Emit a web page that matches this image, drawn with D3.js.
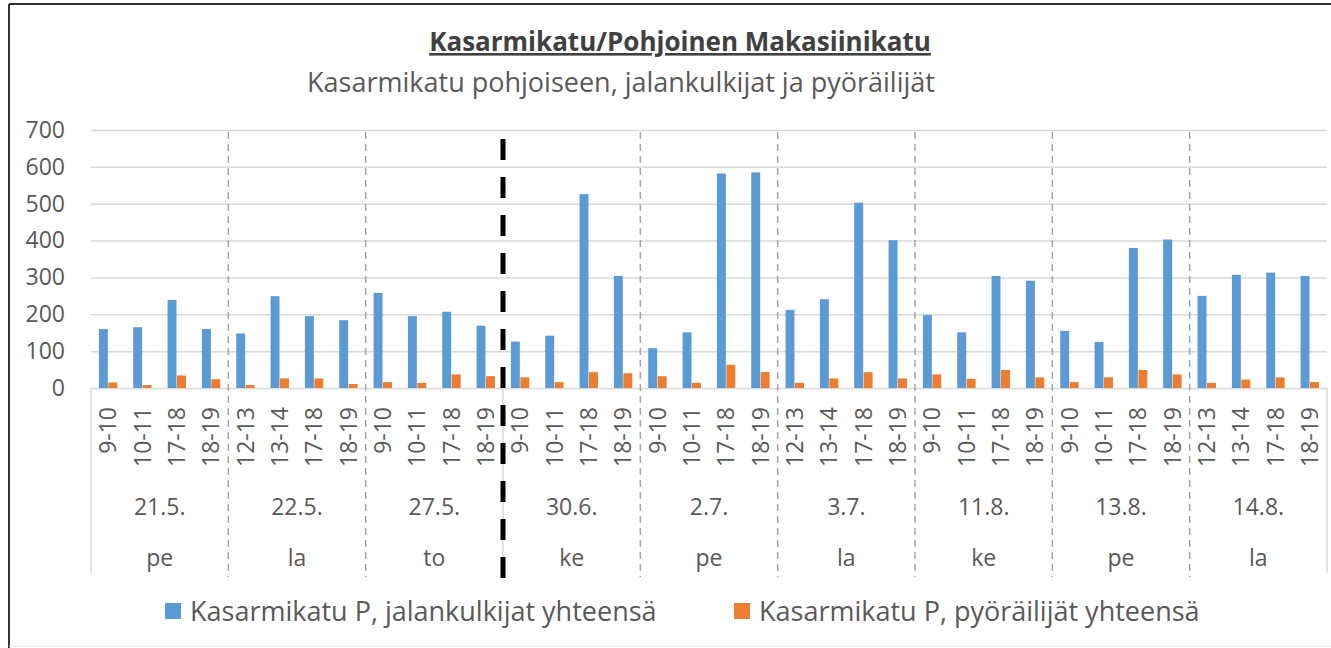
<!DOCTYPE html>
<html>
<head>
<meta charset="utf-8">
<script src="https://cdn.jsdelivr.net/npm/d3@7"></script>
<style>
  body { margin: 0; background: #fff; }
  svg { display: block; font-family: "Open Sans", sans-serif; }
</style>
</head>
<body>
<div id="chart"></div>
<script>
const width = 1331;
const height = 648;

// counting days and weekdays
const dates = ['21.5.', '22.5.', '27.5.', '30.6.', '2.7.', '3.7.', '11.8.', '13.8.', '14.8.'];
const days = ['pe', 'la', 'to', 'ke', 'pe', 'la', 'ke', 'pe', 'la'];
const hours = [
  '9-10', '10-11', '17-18', '18-19',
  '12-13', '13-14', '17-18', '18-19',
  '9-10', '10-11', '17-18', '18-19',
  '9-10', '10-11', '17-18', '18-19',
  '9-10', '10-11', '17-18', '18-19',
  '12-13', '13-14', '17-18', '18-19',
  '9-10', '10-11', '17-18', '18-19',
  '9-10', '10-11', '17-18', '18-19',
  '12-13', '13-14', '17-18', '18-19'
];

const pedestrians = [
  160, 165, 239, 160,
  148, 249, 195, 184,
  258, 195, 207, 169,
  126, 142, 526, 304,
  108, 151, 582, 585,
  212, 241, 503, 401,
  198, 151, 304, 291,
  155, 125, 380, 403,
  250, 307, 313, 304
];
const cyclists = [
  15, 8, 34, 24,
  8, 26, 26, 11,
  16, 14, 37, 32,
  29, 16, 43, 40,
  32, 14, 63, 43,
  14, 26, 43, 26,
  37, 25, 49, 29,
  16, 29, 49, 37,
  14, 23, 29, 16
];

const seriesNames = ['Kasarmikatu P, jalankulkijat yhteensä', 'Kasarmikatu P, pyöräilijät yhteensä'];
const colors = ['#5b9bd5', '#ed7d31'];
const yTicks = [0, 100, 200, 300, 400, 500, 600, 700];
const breakAfter = 3; // black dashed line before this date group

const plot = {left: 91, right: 1327, top: 130, bottom: 388, axisBottom: 573};

const svg = d3.select('#chart')
  .append('svg')
    .attr('width', width)
    .attr('height', height);

svg.append('rect')
  .attr('width', width)
  .attr('height', height)
  .attr('fill', '#fff');

// frame of the screenshot
svg.append('line').attr('x1', 9).attr('x2', 9).attr('y1', 4).attr('y2', height)
  .attr('stroke', '#333').attr('stroke-width', 2);
svg.append('line').attr('x1', 9).attr('x2', width).attr('y1', 4).attr('y2', 4)
  .attr('stroke', '#333').attr('stroke-width', 2);
svg.append('line').attr('x1', 9).attr('x2', width).attr('y1', 646).attr('y2', 646)
  .attr('stroke', '#e6e6e6').attr('stroke-width', 1);

const idx = d3.range(hours.length);

const x = d3.scaleBand()
  .domain(idx)
  .range([plot.left, plot.right]);

const xg = d3.scaleBand()
  .domain(d3.range(dates.length))
  .range([plot.left, plot.right]);

const x1 = d3.scaleBand()
  .domain([0, 1])
  .range([x.bandwidth() * 0.23, x.bandwidth() * 0.78]);

const y = d3.scaleLinear()
  .domain([0, 700])
  .range([plot.bottom, plot.top]);

// y axis with gridlines
const yAxis = d3.axisLeft(y)
  .tickValues(yTicks)
  .tickSize(-(plot.right - plot.left))
  .tickPadding(26);

svg.append('g')
  .attr('transform', `translate(${plot.left},0)`)
  .call(yAxis)
  .call(g => g.select('.domain').remove())
  .call(g => g.selectAll('.tick line').attr('stroke', '#d9d9d9').attr('stroke-width', 1.5))
  .call(g => g.selectAll('.tick text')
    .attr('fill', '#595959')
    .style('font-size', '23px')
    .style('font-family', '"Open Sans", sans-serif'));

// group separators
const seps = d3.range(1, dates.length).filter(i => i !== breakAfter);
svg.selectAll('.sep')
  .data(seps)
  .enter()
  .append('line')
    .attr('class', 'sep')
    .attr('x1', i => xg(i))
    .attr('x2', i => xg(i))
    .attr('y1', plot.top + 2)
    .attr('y2', plot.axisBottom + 4)
    .attr('stroke', '#a6a6a6')
    .attr('stroke-width', 1.5)
    .attr('stroke-dasharray', '7 5');

// outer edges of the category axis
svg.selectAll('.edge')
  .data([plot.left, plot.right])
  .enter()
  .append('line')
    .attr('class', 'edge')
    .attr('x1', d => d).attr('x2', d => d)
    .attr('y1', plot.bottom).attr('y2', plot.axisBottom)
    .attr('stroke', '#d9d9d9')
    .attr('stroke-width', 1.5);

svg.append('line')
  .attr('x1', xg(breakAfter)).attr('x2', xg(breakAfter))
  .attr('y1', plot.bottom).attr('y2', plot.axisBottom + 4)
  .attr('stroke', '#d9d9d9')
  .attr('stroke-width', 1.5);

// bars
const series = [pedestrians, cyclists];
svg.selectAll('.series')
  .data(series)
  .enter()
  .append('g')
    .attr('class', 'series')
    .attr('fill', (d, i) => colors[i])
    .each(function (vals, s) {
      d3.select(this).selectAll('rect')
        .data(vals)
        .enter()
        .append('rect')
          .attr('x', (d, i) => x(i) + x1(s))
          .attr('width', x1.bandwidth() - 0.5)
          .attr('y', d => y(d))
          .attr('height', d => y(0) - y(d));
    });

// black dashed break line
svg.append('line')
  .attr('x1', xg(breakAfter)).attr('x2', xg(breakAfter))
  .attr('y1', 139).attr('y2', plot.axisBottom + 6)
  .attr('stroke', '#000')
  .attr('stroke-width', 5)
  .attr('stroke-dasharray', '21 17');

// hour labels
svg.selectAll('.hour')
  .data(hours)
  .enter()
  .append('text')
    .attr('class', 'hour')
    .attr('transform', (d, i) => `translate(${x(i) + x.bandwidth() / 2},407) rotate(-90)`)
    .attr('text-anchor', 'end')
    .attr('dy', '0.35em')
    .attr('fill', '#595959')
    .style('font-size', '23px')
    .text(d => d);

// date labels
svg.selectAll('.date')
  .data(dates)
  .enter()
  .append('text')
    .attr('class', 'date')
    .attr('x', (d, i) => xg(i) + xg.bandwidth() / 2)
    .attr('y', 515)
    .attr('text-anchor', 'middle')
    .attr('fill', '#595959')
    .style('font-size', '23px')
    .text(d => d);

// weekday labels
svg.selectAll('.day')
  .data(days)
  .enter()
  .append('text')
    .attr('class', 'day')
    .attr('x', (d, i) => xg(i) + xg.bandwidth() / 2)
    .attr('y', 566)
    .attr('text-anchor', 'middle')
    .attr('fill', '#595959')
    .style('font-size', '23px')
    .text(d => d);

// titles
svg.append('text')
  .attr('x', 680)
  .attr('y', 51)
  .attr('text-anchor', 'middle')
  .attr('fill', '#404040')
  .style('font-size', '26px')
  .style('font-weight', 'bold')
  .style('text-decoration', 'underline')
  .text('Kasarmikatu/Pohjoinen Makasiinikatu');

svg.append('text')
  .attr('x', 621)
  .attr('y', 92)
  .attr('text-anchor', 'middle')
  .attr('fill', '#595959')
  .style('font-size', '27px')
  .text('Kasarmikatu pohjoiseen, jalankulkijat ja pyöräilijät');

// legend
const legendX = [165, 734];
const legend = svg.selectAll('.legend')
  .data(seriesNames)
  .enter()
  .append('g')
    .attr('class', 'legend')
    .attr('transform', (d, i) => `translate(${legendX[i]},603)`);

legend.append('rect')
  .attr('width', 16)
  .attr('height', 16)
  .attr('fill', (d, i) => colors[i]);

legend.append('text')
  .attr('x', 25)
  .attr('y', 18)
  .attr('fill', '#595959')
  .style('font-size', '27px')
  .text(d => d);
</script>
</body>
</html>
